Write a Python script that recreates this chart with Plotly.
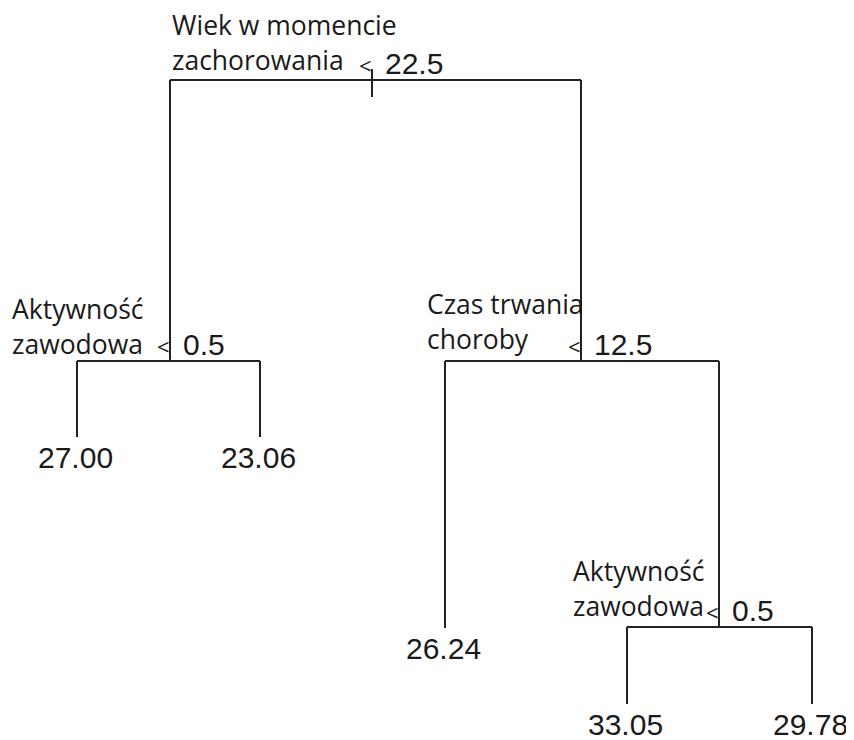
import plotly.graph_objects as go

# drzewo regresyjne - numeracja węzłów jak w R (tree): dzieci węzła n to 2n i 2n+1
node_id = [1, 2, 3, 4, 5, 6, 7, 14, 15]
node_x = [372, 170, 581, 77, 260, 445, 719, 627, 812]
node_y = [80, 361, 361, 437, 437, 628, 627, 704, 704]

split_nodes = [1, 2, 3, 7]
split_var = [("Wiek w momencie", "zachorowania"),
             ("Aktywność", "zawodowa"),
             ("Czas trwania", "choroby"),
             ("Aktywność", "zawodowa")]
split_val = ["22.5", "0.5", "12.5", "0.5"]

leaf_nodes = [4, 5, 6, 14, 15]
leaf_val = [27.00, 23.06, 26.24, 33.05, 29.78]

# położenie podpisów zmiennych (lewy brzeg, środek pierwszej linii)
var_label_pos = {1: (170, 25), 2: (10, 309), 3: (425, 304), 7: (571, 571)}

LBL_FONT = dict(family="Open Sans", size=26.5, color="#1a1a1a")
NUM_FONT = dict(family="Liberation Sans, Arial", size=30, color="#1a1a1a")

# strona html ma 8 px marginesu, więc osie zaczynają się od 8
PAD = 8
W, H = 854, 740

pos = {n: (x, y) for n, x, y in zip(node_id, node_x, node_y)}

xs, ys = [], []
for n in node_id:
    l, r = 2 * n, 2 * n + 1
    if l in pos and r in pos:
        px, py = pos[n]
        # pozioma kreska podziału
        xs += [pos[l][0], pos[r][0], None]
        ys += [py, py, None]
        # pionowe kreski do dzieci
        for c in (l, r):
            xs += [pos[c][0], pos[c][0], None]
            ys += [py, pos[c][1], None]
# krótka kreska przy korzeniu
xs += [pos[1][0], pos[1][0], None]
ys += [pos[1][1] - 11, pos[1][1] + 17, None]

fig = go.Figure()
fig.add_trace(go.Scatter(x=xs, y=ys, mode="lines",
                         line=dict(color="#222222", width=2),
                         hoverinfo="skip", showlegend=False))

for n, (l1, l2), val in zip(split_nodes, split_var, split_val):
    lx, ly = var_label_pos[n]
    fig.add_annotation(x=lx, y=ly, text=l1, xanchor="left", yanchor="middle",
                       showarrow=False, font=LBL_FONT)
    fig.add_annotation(x=lx, y=ly + 35, text=l2, xanchor="left", yanchor="middle",
                       showarrow=False, font=LBL_FONT)
    nx, ny = pos[n]
    fig.add_annotation(x=nx - 7, y=ny - 15, text="<", xanchor="center", yanchor="middle",
                       showarrow=False, font=dict(LBL_FONT, size=22))
    fig.add_annotation(x=nx + 11, y=ny - 17, text=val, xanchor="left", yanchor="middle",
                       showarrow=False, font=NUM_FONT)

for n, val in zip(leaf_nodes, leaf_val):
    nx, ny = pos[n]
    fig.add_annotation(x=nx - 2, y=ny + 20, text=f"{val:.2f}", xanchor="center",
                       yanchor="middle", showarrow=False, font=NUM_FONT)

fig.update_layout(width=W - PAD, height=H - PAD, margin=dict(l=0, r=0, t=0, b=0),
                  plot_bgcolor="white", paper_bgcolor="white")
fig.update_xaxes(range=[PAD, W], visible=False, fixedrange=True)
fig.update_yaxes(range=[H, PAD], visible=False, fixedrange=True)

fig.write_html("out.html")
